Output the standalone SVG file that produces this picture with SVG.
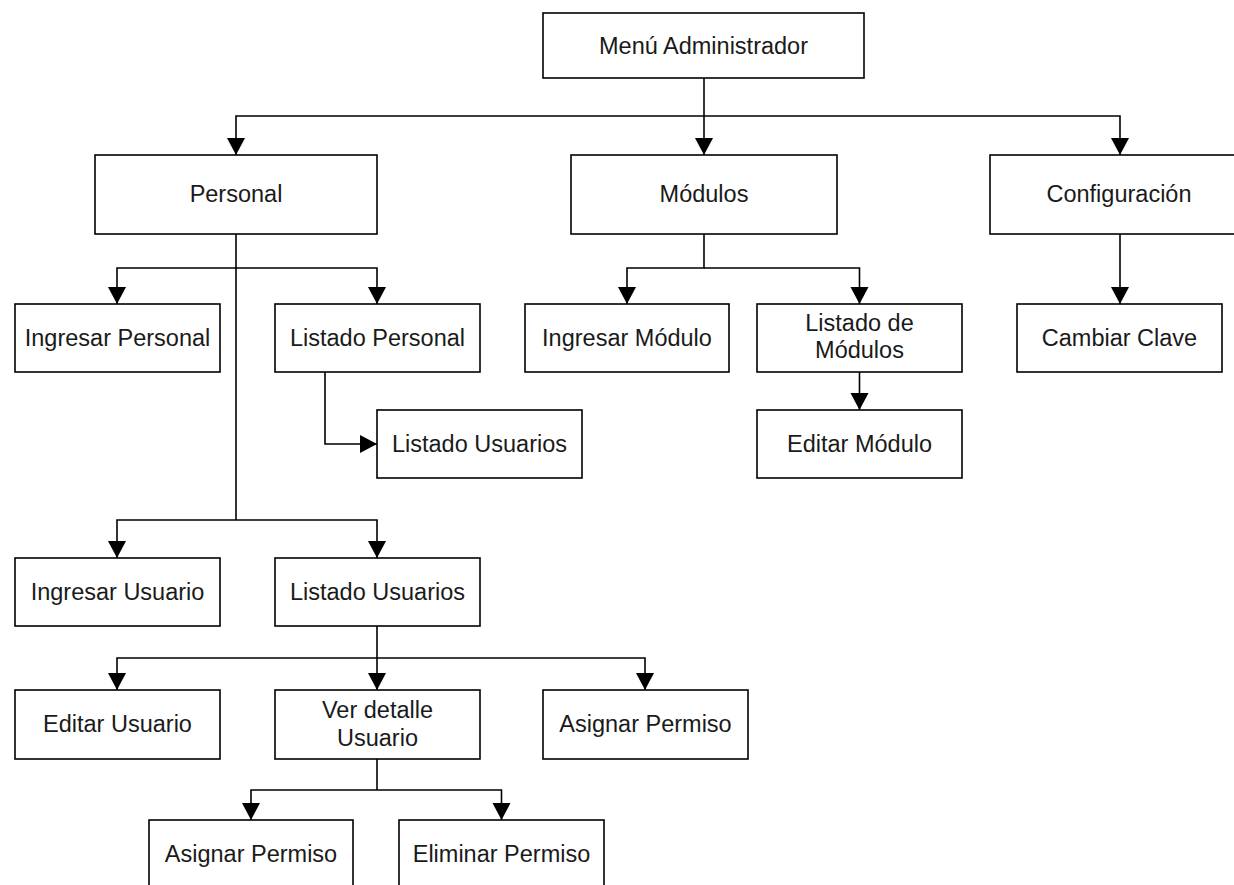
<svg xmlns="http://www.w3.org/2000/svg" width="1234" height="885" viewBox="0 0 1234 885">
<style>
.box{fill:#fff;stroke:#000;stroke-width:1.6}
.t{font-family:"Liberation Sans",Arial,Helvetica,sans-serif;font-size:23.5px;fill:#1a1a1a;text-anchor:middle}
.c{fill:none;stroke:#000;stroke-width:1.6;marker-end:url(#ah)}
.n{fill:none;stroke:#000;stroke-width:1.6}
</style>
<defs>
<marker id="ah" markerUnits="userSpaceOnUse" markerWidth="18" markerHeight="19" refX="17" refY="9.5" orient="auto">
<path d="M0,0.5 L17,9.5 L0,18.5 z" fill="#000"/>
</marker>
</defs>
<rect width="1234" height="885" fill="#fff"/>
<g id="connectors">
<path class="c" d="M704,78 V155"/>
<path class="c" d="M704,116 H236 V155"/>
<path class="c" d="M704,116 H1120 V155"/>
<path class="n" d="M236,234 V520"/>
<path class="c" d="M236,268 H117 V304"/>
<path class="c" d="M236,268 H377 V304"/>
<path class="c" d="M704,234 V268 H627 V304"/>
<path class="c" d="M704,268 H859.5 V304"/>
<path class="c" d="M1120,234 V304"/>
<path class="c" d="M859.5,372 V410"/>
<path class="c" d="M325,372 V444 H377"/>
<path class="c" d="M236,520 H117 V558"/>
<path class="c" d="M236,520 H377 V558"/>
<path class="c" d="M377,626 V690"/>
<path class="c" d="M377,658 H117 V690"/>
<path class="c" d="M377,658 H645 V690"/>
<path class="n" d="M377,759 V790"/>
<path class="c" d="M377,790 H251 V820"/>
<path class="c" d="M377,790 H501.5 V820"/>
</g>
<g id="menu-administrador"><rect class="box" x="543" y="13" width="321" height="65"/><text class="t" x="703.5" y="53.5">Menú Administrador</text></g>
<g id="personal"><rect class="box" x="95" y="155" width="282" height="79"/><text class="t" x="236" y="202">Personal</text></g>
<g id="modulos"><rect class="box" x="571" y="155" width="266" height="79"/><text class="t" x="704" y="202">Módulos</text></g>
<g id="configuracion"><rect class="box" x="990" y="155" width="270" height="79"/><text class="t" x="1119" y="202">Configuración</text></g>
<g id="ingresar-personal"><rect class="box" x="15" y="304" width="205" height="68"/><text class="t" x="117.5" y="345.5">Ingresar Personal</text></g>
<g id="listado-personal"><rect class="box" x="275" y="304" width="205" height="68"/><text class="t" x="377.5" y="345.5">Listado Personal</text></g>
<g id="ingresar-modulo"><rect class="box" x="525" y="304" width="204" height="68"/><text class="t" x="627" y="345.5">Ingresar Módulo</text></g>
<g id="listado-modulos"><rect class="box" x="757" y="304" width="205" height="68"/><text class="t" x="859.5" y="331">Listado de</text><text class="t" x="859.5" y="358">Módulos</text></g>
<g id="cambiar-clave"><rect class="box" x="1017" y="304" width="205" height="68"/><text class="t" x="1119.5" y="345.5">Cambiar Clave</text></g>
<g id="listado-usuarios-1"><rect class="box" x="377" y="410" width="205" height="68"/><text class="t" x="479.5" y="451.5">Listado Usuarios</text></g>
<g id="editar-modulo"><rect class="box" x="757" y="410" width="205" height="68"/><text class="t" x="859.5" y="451.5">Editar Módulo</text></g>
<g id="ingresar-usuario"><rect class="box" x="15" y="558" width="205" height="68"/><text class="t" x="117.5" y="599.5">Ingresar Usuario</text></g>
<g id="listado-usuarios-2"><rect class="box" x="275" y="558" width="205" height="68"/><text class="t" x="377.5" y="599.5">Listado Usuarios</text></g>
<g id="editar-usuario"><rect class="box" x="15" y="690" width="205" height="69"/><text class="t" x="117.5" y="732">Editar Usuario</text></g>
<g id="ver-detalle-usuario"><rect class="box" x="275" y="690" width="205" height="69"/><text class="t" x="377.5" y="718">Ver detalle</text><text class="t" x="377.5" y="746">Usuario</text></g>
<g id="asignar-permiso-1"><rect class="box" x="543" y="690" width="205" height="69"/><text class="t" x="645.5" y="732">Asignar Permiso</text></g>
<g id="asignar-permiso-2"><rect class="box" x="149" y="820" width="204" height="70"/><text class="t" x="251" y="861.5">Asignar Permiso</text></g>
<g id="eliminar-permiso"><rect class="box" x="399" y="820" width="205" height="70"/><text class="t" x="501.5" y="861.5">Eliminar Permiso</text></g>
</svg>
